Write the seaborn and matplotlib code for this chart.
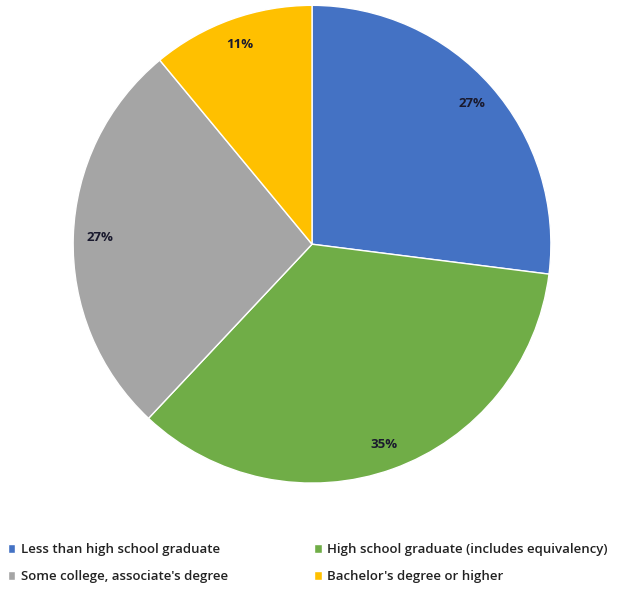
import matplotlib
matplotlib.use("Agg")
import matplotlib.pyplot as plt
import seaborn as sns

categories = ["Less than high school graduate",
              "High school graduate (includes equivalency)",
              "Some college, associate's degree",
              "Bachelor's degree or higher"]
values = [27, 35, 27, 11]
colors = ["#4472C4", "#70AD47", "#A5A5A5", "#FFC000"]

sns.set_theme(style="white")
plt.rcParams['font.family'] = ['Open Sans', 'DejaVu Sans']

fig = plt.figure(figsize=(6.22, 5.92), dpi=100)
ax = fig.add_axes([0.1174, 0.184, 0.7685, 0.807])
wedges, texts, autotexts = ax.pie(values, colors=colors, startangle=90, counterclock=False,
                                  autopct="%d%%", pctdistance=0.89, radius=1,
                                  wedgeprops=dict(edgecolor="white", linewidth=1))
for t in autotexts:
    t.set_fontsize(9.5)
    t.set_fontweight("bold")
    t.set_color("#1a1a2e")
ax.set_xlim(-1, 1)
ax.set_ylim(-1, 1)
ax.set_aspect("equal")

order = [0, 2, 1, 3]
leg = fig.legend([wedges[i] for i in order], [categories[i] for i in order],
                 ncol=2, loc="lower left", bbox_to_anchor=(-0.007, -0.005),
                 frameon=False, fontsize=9.5, handlelength=0.6, handleheight=0.6,
                 handletextpad=0.4, columnspacing=6.5, labelspacing=1.05)
for t in leg.get_texts():
    t.set_color("#222222")
    t.set_fontweight("semibold")

fig.savefig("out.png", dpi=100, facecolor="white")
